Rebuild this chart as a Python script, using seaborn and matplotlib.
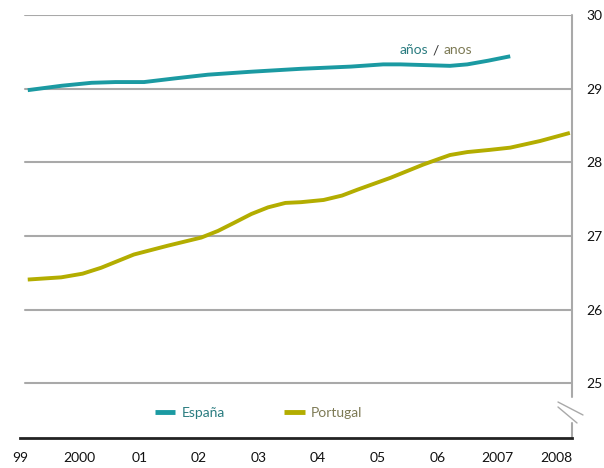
import matplotlib
matplotlib.use("Agg")
import matplotlib.pyplot as plt
import pandas as pd
import seaborn as sns

# values (fractional year, age in years)
espana_x = [1999.13, 1999.70, 2000.20, 2000.60, 2001.08, 2001.60, 2002.15,
            2002.87, 2003.71, 2003.99, 2004.55, 2005.09, 2005.38, 2005.80,
            2006.21, 2006.50, 2006.85, 2007.22]
espana_y = [28.98, 29.04, 29.08, 29.09, 29.09, 29.14, 29.19,
            29.23, 29.27, 29.28, 29.30, 29.33, 29.33, 29.32,
            29.31, 29.33, 29.38, 29.44]

portugal_x = [1999.13, 1999.69, 2000.05, 2000.36, 2000.91, 2001.48, 2002.04,
              2002.32, 2002.59, 2002.88, 2003.16, 2003.45, 2003.71, 2004.09,
              2004.40, 2004.66, 2005.21, 2005.76, 2006.00, 2006.21, 2006.50,
              2006.88, 2007.22, 2007.72, 2008.22]
portugal_y = [26.41, 26.44, 26.49, 26.57, 26.75, 26.87, 26.98,
              27.07, 27.18, 27.30, 27.39, 27.45, 27.46, 27.49,
              27.55, 27.63, 27.79, 27.97, 28.04, 28.10, 28.14,
              28.17, 28.20, 28.29, 28.40]

year_ticks = list(range(1999, 2009))
year_labels = ["99", "2000", "01", "02", "03", "04", "05", "06", "2007", "2008"]
y_ticks = [25, 26, 27, 28, 29, 30]

series = ["España", "Portugal"]
line_colors = {"España": "#1b9aa2", "Portugal": "#b3ad00"}
text_colors = {"España": "#2a7c80", "Portugal": "#7d7a55"}

df = pd.concat([
    pd.DataFrame({"year": espana_x, "age": espana_y, "pais": "España"}),
    pd.DataFrame({"year": portugal_x, "age": portugal_y, "pais": "Portugal"}),
])

sns.set_style("white")
plt.rcParams["font.family"] = ["Lato", "DejaVu Sans"]

fig = plt.figure(figsize=(6.04, 4.68), dpi=100)
ax = fig.add_axes([20 / 604, 1 - 438 / 468, 552 / 604, 423 / 468])

grid_color = "#a9a9a9"
for v in y_ticks:
    ax.axhline(v, xmin=5 / 552, xmax=1, color=grid_color, lw=1.5, zorder=1)

sns.lineplot(data=df, x="year", y="age", hue="pais", palette=line_colors,
             linewidth=2.8, ax=ax, legend=False, zorder=3,
             estimator=None, sort=False)
for line in ax.get_lines()[-2:]:
    line.set_solid_capstyle("butt")
    line.set_solid_joinstyle("round")

ax.set_xlim(1999.025, 2008.256)
ax.set_ylim(24.26, 30)
ax.set_xticks(year_ticks)
ax.set_xticklabels(year_labels)
ax.set_yticks(y_ticks)
ax.yaxis.tick_right()
ax.tick_params(axis="x", length=0, pad=10, labelsize=10, colors="#111111")
ax.tick_params(axis="y", length=0, pad=10, labelsize=10, colors="#111111")
ax.set_xlabel("")
ax.set_ylabel("")

for side in ["top", "left", "right"]:
    ax.spines[side].set_visible(False)
ax.spines["bottom"].set_color("#222222")
ax.spines["bottom"].set_linewidth(2)

# right axis with break
tr = ax.transAxes
ax.plot([1, 1], [0.0976, 1], transform=tr, color=grid_color, lw=1.5, clip_on=False)
ax.plot([1, 1], [0, 0.0355], transform=tr, color=grid_color, lw=1.5, clip_on=False)
ax.plot([0.9746, 1.0199], [0.0851, 0.0544], transform=tr, color=grid_color, lw=1, clip_on=False)
ax.plot([0.9746, 1.0091], [0.0733, 0.0355], transform=tr, color=grid_color, lw=1, clip_on=False)

# legend
handles = [plt.Line2D([], [], color=line_colors[s], lw=3.5, solid_capstyle="butt")
           for s in series]
leg = ax.legend(handles, series, loc="center left", bbox_to_anchor=(0.222, 0.059),
                ncol=2, frameon=False, handlelength=1.45, handletextpad=0.45,
                columnspacing=4.3, fontsize=10)
for txt, s in zip(leg.get_texts(), series):
    txt.set_color(text_colors[s])

# unit label
ax.text(2005.85, 29.52, "años", color=text_colors["España"], ha="right", va="center", fontsize=10)
ax.text(2005.97, 29.52, "/", color="#333333", ha="center", va="center", fontsize=10)
ax.text(2006.10, 29.52, "anos", color=text_colors["Portugal"], ha="left", va="center", fontsize=10)

fig.savefig("out.png", dpi=100)
